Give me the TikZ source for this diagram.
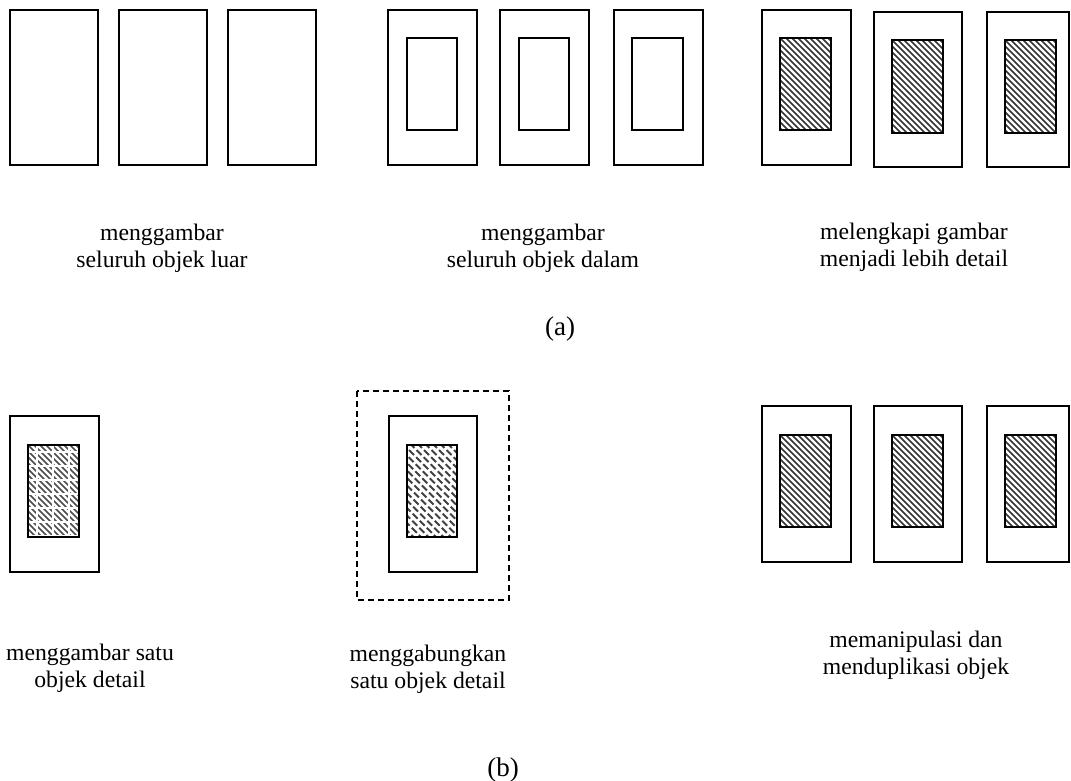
\documentclass[tikz,border=0pt]{standalone}
\usepackage{fontspec}
\setmainfont{Liberation Serif}

% inner rectangle filled with diagonal hatching
\newcommand\hatchrect[4]{%
  \begin{scope}
    \clip (#1,#2) rectangle (#3,#4);
    \foreach \s in {-110,-104,...,60}
      \draw[hatchline] (#1+\s,#2-2) -- ++(150,150);
  \end{scope}
  \draw[inner] (#1,#2) rectangle (#3,#4);}

% hatching broken by a fine white grid
\newcommand\gridrect[4]{%
  \begin{scope}
    \clip (#1,#2) rectangle (#3,#4);
    \foreach \s in {-110,-104,...,60}
      \draw[hatchline,draw=black!70] (#1+\s,#2-2) -- ++(150,150);
    \foreach \t in {7,21,...,95}
      \draw[gridgap] (#1-2,#2+\t) -- (#3+2,#2+\t);
    \foreach \t in {9,25,...,50}
      \draw[gridgap] (#1+\t,#2-2) -- (#1+\t,#4+2);
  \end{scope}
  \draw[inner] (#1,#2) rectangle (#3,#4);}

% hatching made of short diagonal dashes
\newcommand\dashrect[4]{%
  \begin{scope}
    \clip (#1,#2) rectangle (#3,#4);
    \foreach \s in {-110,-102.5,...,60}
      \draw[dashline] (#1+\s,#2-2) -- ++(150,150);
  \end{scope}
  \draw[inner] (#1,#2) rectangle (#3,#4);}

\begin{document}
\begin{tikzpicture}[x=1pt,y=-1pt,
  outer/.style={draw=black,line width=1.2pt},
  inner/.style={draw=black,line width=1.2pt},
  hatchline/.style={line width=1.5pt,draw=black!80},
  gridgap/.style={line width=1.4pt,draw=white},
  dashline/.style={line width=2pt,draw=black!75,dash pattern=on 7pt off 3pt},
  frame/.style={draw=black,line width=1.2pt,dash pattern=on 6pt off 4pt},
  caption/.style={anchor=base,align=center,inner sep=0pt,font=\fontsize{23.7}{27}\selectfont},
  partlabel/.style={anchor=base,inner sep=0pt,font=\fontsize{27}{30}\selectfont}]
\useasboundingbox (0,0) rectangle (1071,780);

% ---------- (a) ----------
% outer objects only
\draw[outer] (10,10) rectangle (98,165);
\draw[outer] (119,10) rectangle (207,165);
\draw[outer] (228,10) rectangle (316,165);

% outer and inner objects
\draw[outer] (388,10) rectangle (477,165);
\draw[inner] (407,38) rectangle (457,130);
\draw[outer] (500,10) rectangle (589,165);
\draw[inner] (519,38) rectangle (569,130);
\draw[outer] (614,10) rectangle (703,165);
\draw[inner] (632,38) rectangle (683,130);

% detailed objects
\draw[outer] (762,10) rectangle (851,165);
\hatchrect{780}{38}{831}{130}
\draw[outer] (874,12) rectangle (962,167);
\hatchrect{892}{40}{943}{133}
\draw[outer] (987,12) rectangle (1069,167);
\hatchrect{1005}{40}{1056}{133}

% captions are placed by the baseline of their last line
\node[caption] (capA1) at (162,267) {menggambar\\seluruh objek luar};
\node[caption] (capA2) at (543,267) {menggambar\\seluruh objek dalam};
\node[caption] (capA3) at (914,266) {melengkapi gambar\\menjadi lebih detail};
\node[partlabel] (partA) at (560,335) {(a)};

% ---------- (b) ----------
\draw[outer] (10,416) rectangle (99,572);
\gridrect{28}{445}{79}{537}

\draw[frame] (357,391) rectangle (509,600);
\draw[outer] (389,416) rectangle (477,572);
\dashrect{407}{445}{457}{537}

\draw[outer] (762,406) rectangle (851,562);
\hatchrect{780}{435}{831}{527}
\draw[outer] (874,406) rectangle (962,562);
\hatchrect{892}{435}{943}{527}
\draw[outer] (987,406) rectangle (1069,562);
\hatchrect{1005}{435}{1056}{527}

\node[caption] (capB1) at (90,687) {menggambar satu\\objek detail};
\node[caption] (capB2) at (428,688) {menggabungkan\\satu objek detail};
\node[caption] (capB3) at (916,674) {memanipulasi dan\\menduplikasi objek};
\node[partlabel] (partB) at (503,776) {(b)};
\end{tikzpicture}
\end{document}
